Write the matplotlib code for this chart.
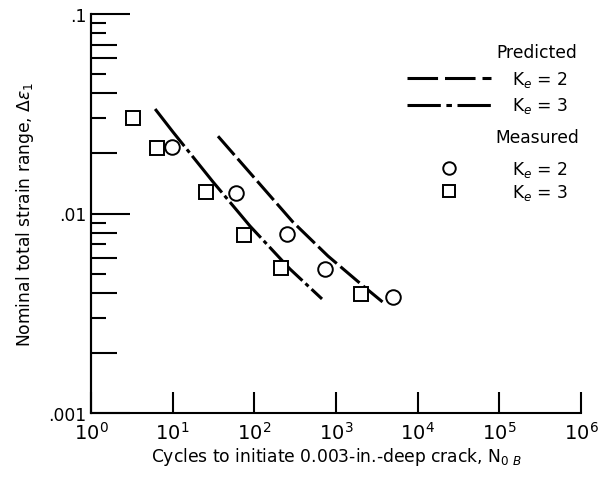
import matplotlib
matplotlib.use("Agg")
import matplotlib.pyplot as plt
from matplotlib.lines import Line2D
from matplotlib.ticker import FixedLocator, NullFormatter

# ---- data ----
pred_ke2_N = [35.9, 108, 297, 798, 2140, 3980]
pred_ke2_e = [0.0244, 0.01456, 0.00906, 0.00612, 0.00434, 0.00352]
pred_ke3_N = [6.1, 10.1, 31.2, 88.5, 273, 674]
pred_ke3_e = [0.0334, 0.0256, 0.0144, 0.00865, 0.00527, 0.00373]

meas_ke2_N = [9.8, 59.6, 251, 733, 4990]
meas_ke2_e = [0.0216, 0.0127, 0.00788, 0.00527, 0.00381]
meas_ke3_N = [3.27, 6.43, 25.6, 74.7, 212, 2024]
meas_ke3_e = [0.0301, 0.0213, 0.0128, 0.0078, 0.00533, 0.00395]

x_ticks = [1, 10, 100, 1e3, 1e4, 1e5, 1e6]
x_labels = [r"$\mathit{10}^{\mathit{%d}}$" % i for i in range(7)]
y_ticks = [0.001, 0.01, 0.1]
y_labels = [".001", ".01", ".1"]
y_minor_long = [0.002, 0.004, 0.006, 0.008, 0.02, 0.04, 0.06, 0.07]
y_minor_short = [0.003, 0.005, 0.007, 0.009, 0.03, 0.05, 0.08, 0.09]

plt.rcParams['font.family'] = ['DejaVu Sans']
plt.rcParams['lines.scale_dashes'] = False
plt.rcParams['mathtext.fontset'] = 'dejavusans'
FS = 12.3
DASH2 = (18, 3.5)
DASH3 = (34, 3, 3, 3)

fig = plt.figure(figsize=(6.10, 4.81), dpi=100)
ax = fig.add_axes([91/610, 1-414/481, (581-91)/610, (414-15)/481])
ax.set_xscale('log')
ax.set_yscale('log')
ax.set_xlim(1, 1e6)
ax.set_ylim(0.001, 0.1)

lw = 2.2
ax.plot(pred_ke2_N, pred_ke2_e, color='black', lw=lw, dashes=DASH2)
ax.plot(pred_ke3_N, pred_ke3_e, color='black', lw=lw, dashes=DASH3)
ax.plot(meas_ke2_N, meas_ke2_e, 'o', ms=10.5, mfc='white', mec='black', mew=1.4)
ax.plot(meas_ke3_N, meas_ke3_e, 's', ms=10.5, mfc='white', mec='black', mew=1.4)

for s in ['top', 'right']:
    ax.spines[s].set_visible(False)
for s in ['left', 'bottom']:
    ax.spines[s].set_linewidth(1.5)

ax.xaxis.set_major_locator(FixedLocator(x_ticks))
ax.set_xticklabels(x_labels, fontsize=14)
ax.xaxis.set_minor_locator(FixedLocator([]))
ax.tick_params(axis='x', which='major', direction='in', length=15, width=1.5, pad=6)

ax.yaxis.set_major_locator(FixedLocator(y_ticks))
ax.set_yticklabels(y_labels, fontsize=FS)
ax.yaxis.set_minor_locator(FixedLocator(y_minor_long))
ax.yaxis.set_minor_formatter(NullFormatter())
ax.tick_params(axis='y', which='major', direction='in', length=28, width=1.5, pad=3)
ax.tick_params(axis='y', which='minor', direction='in', length=19, width=1.5)

sec = ax.secondary_yaxis(0)
sec.set_yscale('log')
sec.yaxis.set_major_locator(FixedLocator(y_minor_short))
sec.yaxis.set_major_formatter(NullFormatter())
sec.yaxis.set_minor_locator(FixedLocator([]))
sec.tick_params(axis='y', which='major', direction='in', length=11, width=1.5)
sec.spines['left'].set_linewidth(1.5)

ax.set_ylabel(r"Nominal total strain range, $\Delta\epsilon_1$", fontsize=FS, labelpad=9)
ax.set_xlabel(r"Cycles to initiate 0.003-in.-deep crack, N$_{0\ B}$", fontsize=FS, labelpad=1)

# legend titles and entries
fig.text(577/610, 1-53/481, "Predicted", ha='right', va='center', fontsize=FS)
fig.text(579/610, 1-138/481, "Measured", ha='right', va='center', fontsize=FS)

h1 = [Line2D([], [], color='black', lw=lw, dashes=(22, 5)),
      Line2D([], [], color='black', lw=lw, dashes=(24, 4, 4, 4))]
h2 = [Line2D([], [], ls='none', marker='o', ms=9, mfc='white', mec='black', mew=1.4),
      Line2D([], [], ls='none', marker='s', ms=9, mfc='white', mec='black', mew=1.4)]
labs = [r"K$_e$ = 2", r"K$_e$ = 3"]
common = dict(loc='upper right', frameon=False, fontsize=FS,
              handlelength=4.9, handletextpad=1.25, borderpad=0, borderaxespad=0)
leg1 = fig.legend(h1, labs, bbox_to_anchor=(568/610, 1-70/481),
                  labelspacing=0.38, **common)
leg2 = fig.legend(h2, labs, bbox_to_anchor=(568/610, 1-160/481),
                  labelspacing=0.2, numpoints=1, **common)

fig.savefig("out.png", dpi=100)
